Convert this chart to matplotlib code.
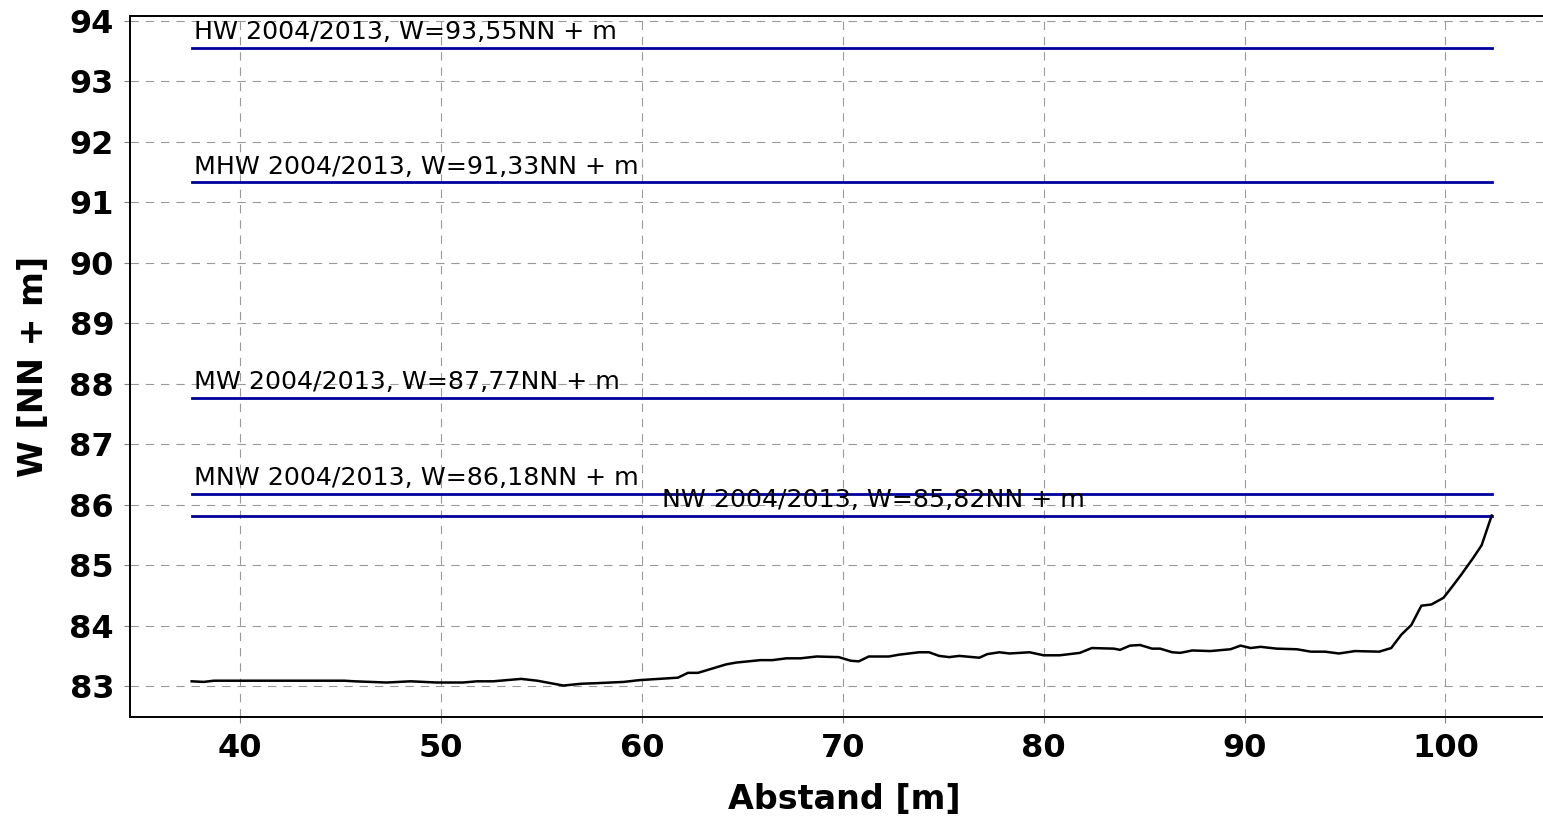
import numpy as np
import matplotlib
matplotlib.use("Agg")
from matplotlib import pyplot as plt

# water levels (NN + m)
level_names  = ['HW', 'MHW', 'MW', 'MNW', 'NW']
level_values = [93.55, 91.33, 87.77, 86.18, 85.82]
level_label_x = [37.7, 37.7, 37.7, 37.7, 61.0]
level_x0 = 37.6
level_x1 = 102.3

# cross-section profile
abstand = [37.6, 38.2, 38.7, 45.2, 45.7, 47.3, 48.5, 49.8, 51.1, 51.8, 52.6, 54.0,
           54.8, 56.1, 57.0, 57.8, 59.1, 59.9, 61.8, 62.3, 62.8, 63.3, 64.2, 64.7,
           65.9, 66.5, 67.2, 67.9, 68.7, 69.8, 70.4, 70.8, 71.3, 72.3, 72.8, 73.8,
           74.3, 74.8, 75.3, 75.8, 76.8, 77.2, 77.8, 78.3, 79.3, 80.0, 80.8, 81.8,
           82.4, 83.5, 83.8, 84.3, 84.8, 85.4, 85.8, 86.4, 86.8, 87.4, 88.3, 89.3,
           89.8, 90.3, 90.8, 91.6, 92.6, 93.3, 94.0, 94.7, 95.5, 96.7, 97.3, 97.8,
           98.3, 98.8, 99.3, 99.9, 100.3, 100.8, 101.4, 101.8, 102.3]
hoehe = [83.08, 83.07, 83.09, 83.09, 83.08, 83.06, 83.08, 83.06, 83.06, 83.08, 83.08, 83.12,
         83.09, 83.01, 83.04, 83.05, 83.07, 83.10, 83.14, 83.22, 83.22, 83.27, 83.36, 83.39,
         83.43, 83.43, 83.46, 83.46, 83.49, 83.48, 83.42, 83.41, 83.49, 83.49, 83.52, 83.56,
         83.56, 83.50, 83.48, 83.50, 83.47, 83.53, 83.56, 83.54, 83.56, 83.51, 83.51, 83.55,
         83.63, 83.62, 83.60, 83.67, 83.68, 83.62, 83.62, 83.56, 83.55, 83.59, 83.58, 83.61,
         83.67, 83.63, 83.65, 83.62, 83.61, 83.57, 83.57, 83.54, 83.58, 83.57, 83.63, 83.85,
         84.01, 84.33, 84.35, 84.46, 84.63, 84.85, 85.13, 85.33, 85.82]

x_ticks = [40, 50, 60, 70, 80, 90, 100]
y_ticks = list(range(83, 95))

plt.rcParams['lines.scale_dashes'] = False

fig = plt.figure(figsize=(15.43, 8.26), dpi=100)
ax = fig.add_axes([130/1543, 1 - 717/826, 1428/1543, 700.5/826])

for name, val, lx in zip(level_names, level_values, level_label_x):
    ax.plot([level_x0, level_x1], [val, val], color='#00009c', lw=2.0, zorder=3)
    ax.text(lx, val + 0.14, name + ' 2004/2013, W=' + ('%.2f' % val).replace('.', ',') + 'NN + m',
            fontsize=18.2, family='DejaVu Sans', va='baseline', ha='left', zorder=4)

ax.plot(abstand, hoehe, color='black', lw=1.8, zorder=3)

ax.set_xlim(34.53, 105.6)
ax.set_ylim(82.49, 94.07)
ax.set_xticks(x_ticks)
ax.set_yticks(y_ticks)
ax.grid(True, color='#999999', lw=0.8, linestyle=(0, (6.0, 5.0)))
ax.set_axisbelow(True)

ax.tick_params(direction='out', length=4.5, width=0.8, color='#808080', pad=7)
for lab in ax.get_xticklabels() + ax.get_yticklabels():
    lab.set_fontfamily('DejaVu Sans')
    lab.set_fontweight('bold')
    lab.set_fontsize(23)

for side in ['left', 'bottom', 'top']:
    ax.spines[side].set_linewidth(1.4)
    ax.spines[side].set_color('black')
ax.spines['right'].set_visible(False)

ax.set_xlabel('Abstand [m]', fontsize=24, fontweight='bold', family='DejaVu Sans')
ax.set_ylabel('W [NN + m]', fontsize=24, fontweight='bold', family='DejaVu Sans')
ax.xaxis.set_label_coords((844 - 130) / 1428, -(783 - 717) / 700.5)
ax.yaxis.set_label_coords(-(130 - 50) / 1428, 0.5)

fig.savefig('out.png', dpi=100)
